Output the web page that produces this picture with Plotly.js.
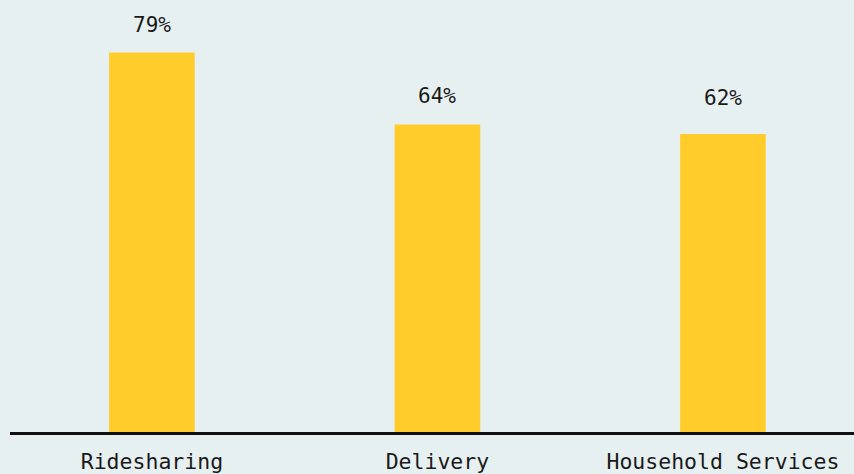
<!DOCTYPE html>
<html>
<head>
<meta charset="utf-8">
<script src="https://cdn.plot.ly/plotly-3.0.1.min.js"></script>
<style>html,body{margin:0;padding:0;background:#e7f0f1;}#chart{width:854px;height:474px;}</style>
</head>
<body>
<div id="chart"></div>
<script>
const categories = ["Ridesharing", "Delivery", "Household Services"];
const values = [79, 64, 62];
const valueLabels = ["79%", "64%", "62%"];

const FONT = "DejaVu Sans Mono, Liberation Mono, monospace";
const labelShifts = [13, 14, 22];

const trace = {
  type: "bar",
  x: categories,
  y: values,
  width: 0.30,
  marker: {color: "#ffcc2b"},
  hoverinfo: "none"
};

const annotations = categories.map((c, i) => ({
  x: c, y: values[i], xref: "x", yref: "y",
  text: valueLabels[i], showarrow: false,
  yanchor: "bottom", yshift: labelShifts[i],
  font: {family: FONT, size: 21, color: "#1a1a1a"}
}));

const layout = {
  width: 854, height: 474,
  margin: {l: 10, r: 0, t: 0, b: 42, pad: 0},
  paper_bgcolor: "#e7f0f1",
  plot_bgcolor: "#e7f0f1",
  showlegend: false,
  xaxis: {
    type: "category",
    range: [-0.497, 2.459],
    showline: true, linecolor: "#111111", linewidth: 2.5,
    showgrid: false, zeroline: false,
    ticks: "", ticklabelstandoff: 9,
    tickfont: {family: FONT, size: 21.5, color: "#1a1a1a"},
    fixedrange: true
  },
  yaxis: {
    range: [0, 89.9],
    visible: false,
    showgrid: false, zeroline: false,
    fixedrange: true
  },
  annotations: annotations
};

Plotly.newPlot("chart", [trace], layout, {displayModeBar: false, staticPlot: true});
</script>
</body>
</html>
